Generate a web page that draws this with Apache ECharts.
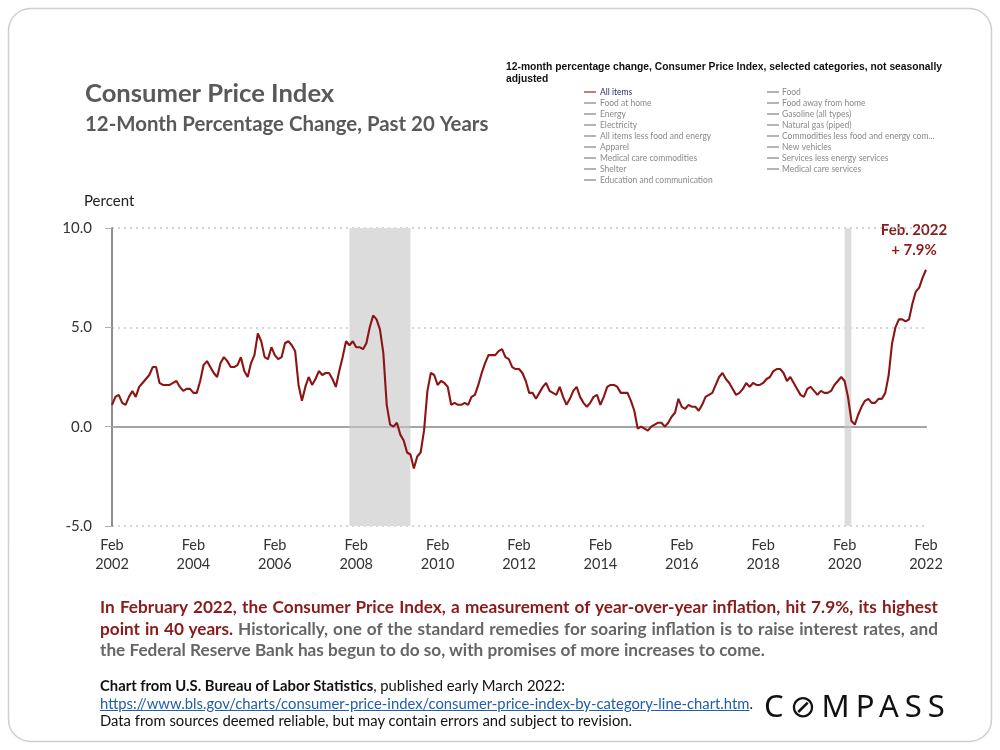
<!DOCTYPE html>
<html>
<head>
<meta charset="utf-8">
<script src="https://cdn.jsdelivr.net/npm/echarts@6/dist/echarts.min.js"></script>
<style>
  html, body { margin: 0; padding: 0; background: #fff; }
  #wrap { position: relative; width: 1000px; height: 750px; }
  #chart { position: absolute; left: 0; top: 0; width: 1000px; height: 750px; }
  #para { position: absolute; left: 100px; top: 596px; width: 838px; font-family: Lato, sans-serif; font-weight: 700;
          font-size: 17.2px; line-height: 21.5px; text-align: justify; color: #666; }
  #para .hl { color: #8b1a1a; }
  #src { position: absolute; left: 100px; top: 677px; width: 700px; font-family: Lato, sans-serif; font-size: 14.8px;
         line-height: 17.5px; color: #111; }
  #src a { color: #1f5fa8; text-decoration: underline; }
  #logo { position: absolute; left: 764px; top: 684px; font-family: "Noto Sans", sans-serif; font-size: 31px;
          letter-spacing: 6px; color: #111; font-weight: 400; }
</style>
</head>
<body>
<div id="wrap">
  <div id="chart"></div>
  <div id="para"><span class="hl">In February 2022, the Consumer Price Index, a measurement of year-over-year inflation, hit 7.9%, its highest point in 40 years.</span> Historically, one of the standard remedies for soaring inflation is to raise interest rates, and the Federal Reserve Bank has begun to do so, with promises of more increases to come.</div>
  <div id="src"><b>Chart from U.S. Bureau of Labor Statistics</b>, published early March 2022:<br><a href="#">https://www.bls.gov/charts/consumer-price-index/consumer-price-index-by-category-line-chart.htm</a>.<br>Data from sources deemed reliable, but may contain errors and subject to revision.</div>
  <div id="logo">C&#8856;MPASS</div>
</div>
<script>
// ---- data (12-month % change, CPI All items, Feb 2002 .. Feb 2022) ----
const startYear = 2002;
const startMonth = 1; // Feb (0 = Jan)
const monthNames = ['Jan','Feb','Mar','Apr','May','Jun','Jul','Aug','Sep','Oct','Nov','Dec'];
const cpiValues = [
  1.1, 1.5, 1.6, 1.2, 1.1, 1.5, 1.8, 1.5, 2.0, 2.2, 2.4,
  2.6, 3.0, 3.0, 2.2, 2.1, 2.1, 2.1, 2.2, 2.3, 2.0, 1.8, 1.9,
  1.9, 1.7, 1.7, 2.3, 3.1, 3.3, 3.0, 2.7, 2.5, 3.2, 3.5, 3.3,
  3.0, 3.0, 3.1, 3.5, 2.8, 2.5, 3.2, 3.6, 4.7, 4.3, 3.5, 3.4,
  4.0, 3.6, 3.4, 3.5, 4.2, 4.3, 4.1, 3.8, 2.1, 1.3, 2.0, 2.5,
  2.1, 2.4, 2.8, 2.6, 2.7, 2.7, 2.4, 2.0, 2.8, 3.5, 4.3, 4.1,
  4.3, 4.0, 4.0, 3.9, 4.2, 5.0, 5.6, 5.4, 4.9, 3.7, 1.1, 0.1,
  0.0, 0.2, -0.4, -0.7, -1.3, -1.4, -2.1, -1.5, -1.3, -0.2, 1.8, 2.7,
  2.6, 2.1, 2.3, 2.2, 2.0, 1.1, 1.2, 1.1, 1.1, 1.2, 1.1, 1.5,
  1.6, 2.1, 2.7, 3.2, 3.6, 3.6, 3.6, 3.8, 3.9, 3.5, 3.4, 3.0,
  2.9, 2.9, 2.7, 2.3, 1.7, 1.7, 1.4, 1.7, 2.0, 2.2, 1.8, 1.7,
  1.6, 2.0, 1.5, 1.1, 1.4, 1.8, 2.0, 1.5, 1.2, 1.0, 1.2, 1.5,
  1.6, 1.1, 1.5, 2.0, 2.1, 2.1, 2.0, 1.7, 1.7, 1.7, 1.3, 0.8,
  -0.1, 0.0, -0.1, -0.2, 0.0, 0.1, 0.2, 0.2, 0.0, 0.2, 0.5, 0.7,
  1.4, 1.0, 0.9, 1.1, 1.0, 1.0, 0.8, 1.1, 1.5, 1.6, 1.7, 2.1,
  2.5, 2.7, 2.4, 2.2, 1.9, 1.6, 1.7, 1.9, 2.2, 2.0, 2.2, 2.1,
  2.1, 2.2, 2.4, 2.5, 2.8, 2.9, 2.9, 2.7, 2.3, 2.5, 2.2, 1.9,
  1.6, 1.5, 1.9, 2.0, 1.8, 1.6, 1.8, 1.7, 1.7, 1.8, 2.1, 2.3,
  2.5, 2.3, 1.5, 0.3, 0.1, 0.6, 1.0, 1.3, 1.4, 1.2, 1.2, 1.4,
  1.4, 1.7, 2.6, 4.2, 5.0, 5.4, 5.4, 5.3, 5.4, 6.2, 6.8, 7.0,
  7.5, 7.9
];
const recessions = [['Dec 2007', 'Jun 2009'], ['Feb 2020', 'Apr 2020']];
const yTicks = { min: -5, max: 10, interval: 5 };
const legendCol1 = ['All items', 'Food at home', 'Energy', 'Electricity', 'All items less food and energy',
  'Apparel', 'Medical care commodities', 'Shelter', 'Education and communication'];
const legendCol2 = ['Food', 'Food away from home', 'Gasoline (all types)', 'Natural gas (piped)',
  'Commodities less food and energy com...', 'New vehicles', 'Services less energy services', 'Medical care services'];
const annotation = ['Feb. 2022', '+ 7.9%'];

const categories = cpiValues.map((_, i) => {
  const m = startMonth + i;
  return monthNames[m % 12] + ' ' + (startYear + Math.floor(m / 12));
});

// ---- legend graphics ----
const legendGraphics = [];
const rowH = 11;
function addLegendCol(items, lineX, textX) {
  items.forEach((name, i) => {
    const y = 92 + i * rowH;
    const first = name === 'All items';
    legendGraphics.push({ type: 'line', shape: { x1: lineX, y1: y, x2: lineX + 12, y2: y },
      style: { stroke: first ? '#9b3a3a' : '#8c8c8c', lineWidth: 1.3 }, silent: true });
    legendGraphics.push({ type: 'text', x: textX, y: y, style: { text: name, fill: first ? '#2d2d6e' : '#8a8a8a',
      font: '8.5px Lato, sans-serif', textVerticalAlign: 'middle' }, silent: true });
  });
}
addLegendCol(legendCol1, 584, 600);
addLegendCol(legendCol2, 767, 782);

const chart = echarts.init(document.getElementById('chart'));
chart.setOption({
  animation: false,
  backgroundColor: '#fff',
  grid: { left: 112, right: 74, top: 228, bottom: 224 },
  xAxis: {
    type: 'category', data: categories, boundaryGap: false,
    axisLine: { lineStyle: { color: '#8f8f8f', width: 2 } },
    axisTick: { show: false },
    axisLabel: { interval: 23, formatter: v => v.replace(' ', '\n'), color: '#333', fontSize: 14.5,
      lineHeight: 19, margin: 10, fontFamily: 'Lato, sans-serif' },
    splitLine: { show: false }
  },
  yAxis: {
    type: 'value', min: yTicks.min, max: yTicks.max, interval: yTicks.interval,
    axisLine: { show: true, lineStyle: { color: '#8f8f8f', width: 2 } },
    axisTick: { show: true, length: 7, lineStyle: { color: '#b0b0b0', width: 1 } },
    axisLabel: { formatter: v => v.toFixed(1), color: '#333', fontSize: 15, margin: 20, fontFamily: 'Lato, sans-serif' },
    splitLine: { show: true, lineStyle: { color: '#c8c8c8', type: [2, 4], width: 1.5 } }
  },
  series: [
    {
      type: 'line', data: [], silent: true,
      markArea: { silent: true, itemStyle: { color: '#dcdcdc' },
        data: recessions.map(r => [{ xAxis: r[0] }, { xAxis: r[1] }]) },
      markLine: { silent: true, symbol: 'none', label: { show: false },
        lineStyle: { color: '#adadad', type: 'solid', width: 1.5 }, data: [{ yAxis: 0 }] }
    },
    {
      type: 'line', data: cpiValues, symbol: 'none', smooth: false, z: 5,
      lineStyle: { color: '#8b1414', width: 2.1 }, itemStyle: { color: '#8b1414' }
    }
  ],
  graphic: [
    { type: 'rect', shape: { x: 8.5, y: 8.5, width: 983, height: 733, r: 22 },
      style: { fill: 'none', stroke: '#cfcfcf', lineWidth: 1.5 }, silent: true },
    { type: 'text', x: 85, y: 94, style: { text: 'Consumer Price Index', fill: '#595959',
      font: 'bold 25.6px Lato, sans-serif', textVerticalAlign: 'middle' } },
    { type: 'text', x: 85, y: 124, style: { text: '12-Month Percentage Change, Past 20 Years', fill: '#595959',
      font: 'bold 20.4px Lato, sans-serif', textVerticalAlign: 'middle' } },
    { type: 'text', x: 84, y: 201, style: { text: 'Percent', fill: '#222',
      font: '15px Lato, sans-serif', textVerticalAlign: 'middle' } },
    { type: 'text', x: 506, y: 67, style: { text: '12-month percentage change, Consumer Price Index, selected categories, not seasonally',
      fill: '#111', font: 'bold 10.3px "Liberation Sans", Arial, sans-serif', textVerticalAlign: 'middle' } },
    { type: 'text', x: 506, y: 79, style: { text: 'adjusted',
      fill: '#111', font: 'bold 10.3px "Liberation Sans", Arial, sans-serif', textVerticalAlign: 'middle' } },
    { type: 'text', x: 914, y: 230, style: { text: annotation[0], fill: '#8b1a1a',
      font: 'bold 15px Lato, sans-serif', textAlign: 'center', textVerticalAlign: 'middle' } },
    { type: 'text', x: 914, y: 250, style: { text: annotation[1], fill: '#8b1a1a',
      font: 'bold 15px Lato, sans-serif', textAlign: 'center', textVerticalAlign: 'middle' } }
  ].concat(legendGraphics)
});
</script>
</body>
</html>
